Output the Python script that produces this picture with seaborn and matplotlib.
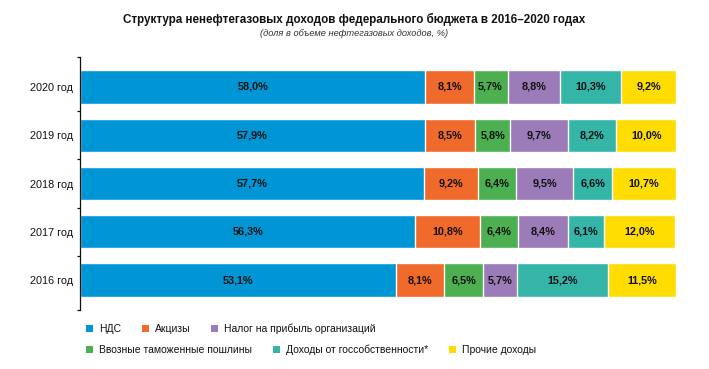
import numpy as np
import pandas as pd
import matplotlib
matplotlib.use("Agg")
import matplotlib.pyplot as plt
import seaborn as sns
from matplotlib.patches import Patch

years = ["2020 год", "2019 год", "2018 год", "2017 год", "2016 год"]
nds = [58.0, 57.9, 57.7, 56.3, 53.1]
akcizy = [8.1, 8.5, 9.2, 10.8, 8.1]
vvoznye = [5.7, 5.8, 6.4, 6.4, 6.5]
nalog = [8.8, 9.7, 9.5, 8.4, 5.7]
gossob = [10.3, 8.2, 6.6, 6.1, 15.2]
prochie = [9.2, 10.0, 10.7, 12.0, 11.5]

series_names = ["НДС", "Акцизы", "Ввозные таможенные пошлины", "Налог на прибыль организаций",
                "Доходы от госсобственности*", "Прочие доходы"]
series_vals = [nds, akcizy, vvoznye, nalog, gossob, prochie]
colors = ["#0096d6", "#f06a2c", "#4caf50", "#9b7bb8", "#34b5a8", "#ffdd00"]

sns.set_style("white")
plt.rcParams["font.family"] = ["Liberation Sans", "DejaVu Sans"]

fig = plt.figure(figsize=(7.09, 3.69), dpi=100)
W, H = 709, 369
ax = fig.add_axes([80 / W, 1 - 310 / H, (676 - 80) / W, (310 - 57) / H])

vals = np.array(series_vals)
cum = np.cumsum(vals, axis=0)

# draw from the total backwards so that each earlier segment overlays
for i in range(len(series_names) - 1, -1, -1):
    df = pd.DataFrame({"year": years, "val": cum[i]})
    sns.barplot(data=df, x="val", y="year", order=years, color=colors[i],
                orient="h", width=0.69, saturation=1, ax=ax, errorbar=None)

for i in range(len(series_names)):
    for j in range(len(years)):
        center = cum[i][j] - vals[i][j] / 2
        ax.text(center, j, f"{vals[i][j]:.1f}%".replace(".", ","),
                ha="center", va="center", fontsize=7.8, fontweight="bold", color="#111111")

ax.set_xlim(0, 100.1)
ax.set_ylim(4.62, -0.62)
ax.set_xlabel("")
ax.set_ylabel("")
ax.set_xticks([])
for s in ["top", "right", "bottom"]:
    ax.spines[s].set_visible(False)
ax.spines["left"].set_color("#111111")
ax.spines["left"].set_linewidth(0.9)
ax.tick_params(axis="y", which="major", left=False, length=0, pad=5, labelsize=7.8, labelcolor="#111111")
ax.set_yticks([0.5, 1.5, 2.5, 3.5, -0.62, 4.62], minor=True)
ax.tick_params(axis="y", which="minor", left=True, length=2.3, width=0.9, color="#111111", direction="out")

fig.text(0.5, 1 - 19 / H, "Структура ненефтегазовых доходов федерального бюджета в 2016–2020 годах",
         ha="center", va="center", fontsize=8.4, fontweight="bold", color="#111111")
fig.text(0.5, 1 - 33 / H, "(доля в объеме нефтегазовых доходов, %)",
         ha="center", va="center", fontsize=6.7, style="italic", color="#333333")

def make_legend(idx, y):
    handles = [Patch(facecolor=colors[k], edgecolor="none") for k in idx]
    labels = [series_names[k] for k in idx]
    leg = fig.legend(handles, labels, ncol=3, loc="center left",
                     bbox_to_anchor=(86 / W, 1 - y / H), frameon=False,
                     fontsize=7.5, handlelength=0.65, handleheight=0.65,
                     handletextpad=0.6, columnspacing=2.0, borderaxespad=0, borderpad=0)
    for t in leg.get_texts():
        t.set_color("#111111")
    return leg

make_legend([0, 1, 3], 329)
make_legend([2, 4, 5], 350)

fig.savefig("out.png", dpi=100)
